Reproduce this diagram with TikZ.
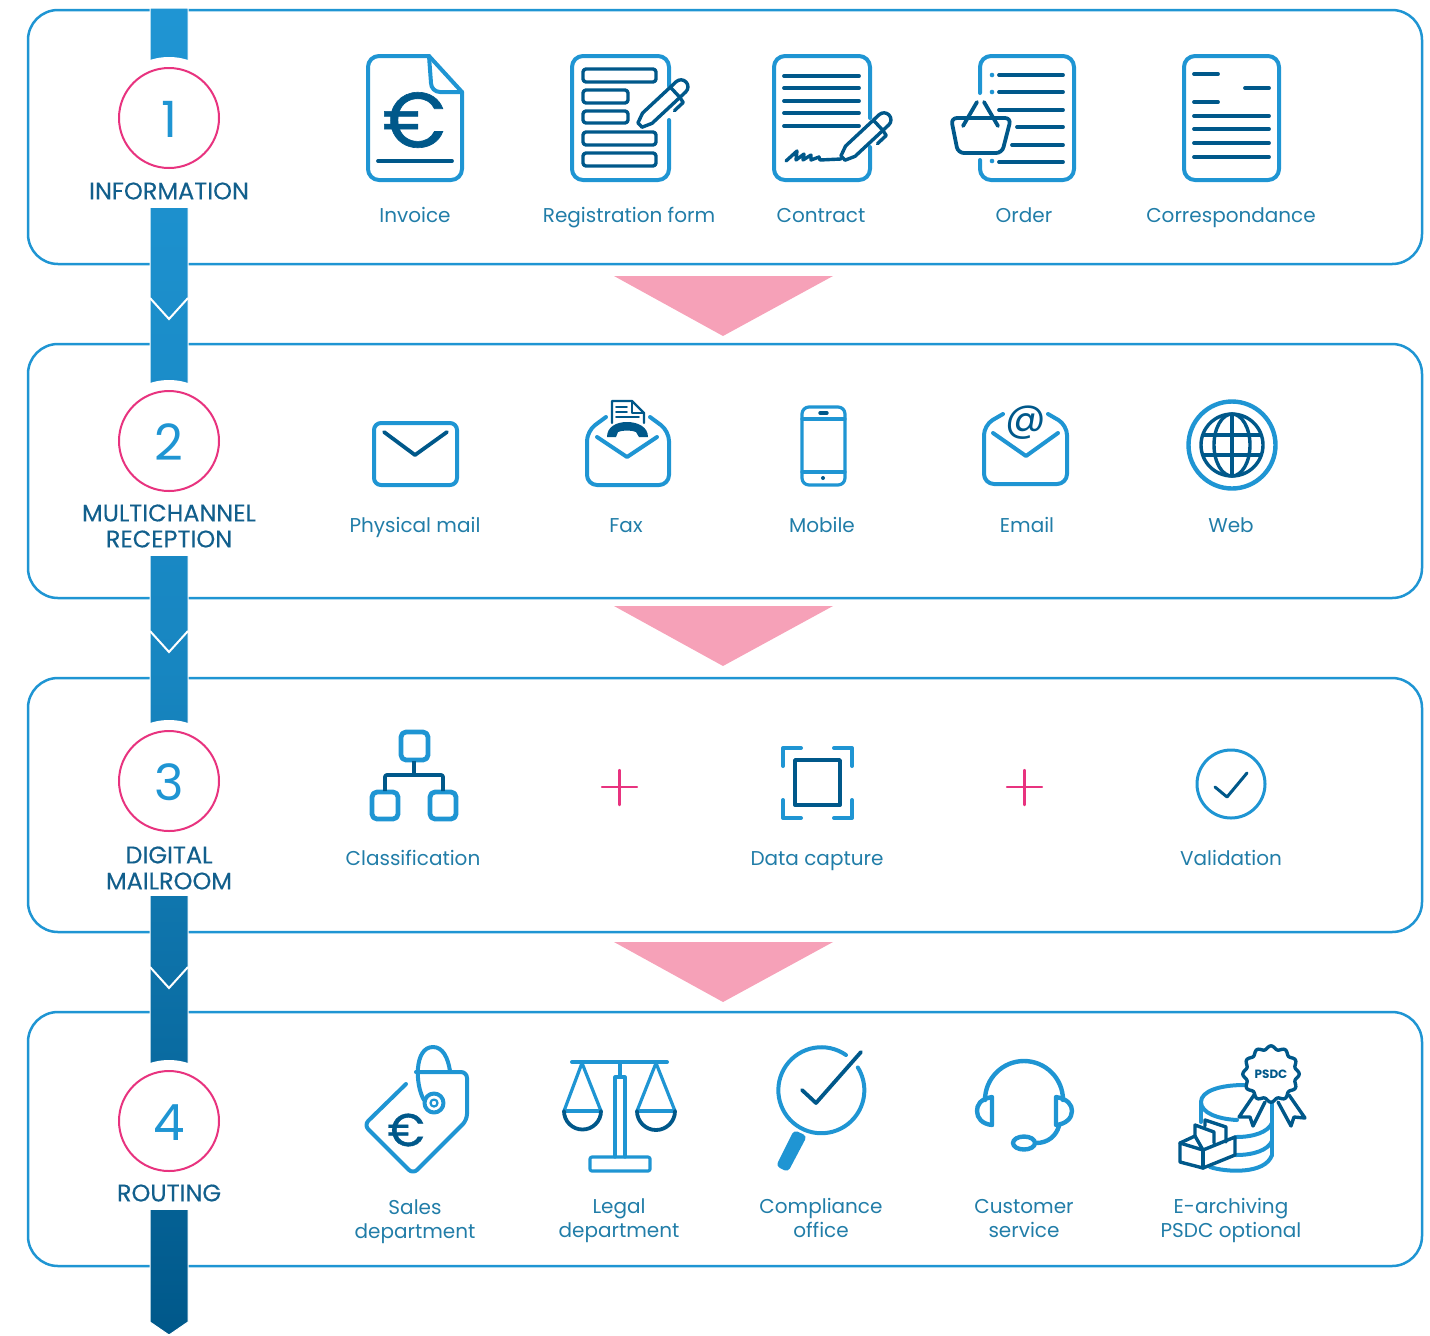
\documentclass[tikz,border=0pt]{standalone}
\usepackage{fontspec}
\setmainfont{Poppins}
\definecolor{lblue}{HTML}{1F95D3}
\definecolor{dblue}{HTML}{00588A}
\definecolor{pinkc}{HTML}{E8337F}
\definecolor{pinktri}{HTML}{F6A1B8}
\definecolor{itemc}{HTML}{217DA8}
\definecolor{titlec}{HTML}{125F8C}
\tikzset{
panel/.style={draw=lblue, line width=1.25pt, rounded corners=15pt},
iconl/.style={draw=lblue, line width=2pt, line cap=round, line join=round},
icond/.style={draw=dblue, line width=1.9pt, line cap=round, line join=round},
thinl/.style={draw=lblue, line width=1.6pt, line cap=round, line join=round},
thind/.style={draw=dblue, line width=1.7pt, line cap=round, line join=round},
itemlabel/.style={text=itemc, font=\fontsize{10pt}{12pt}\selectfont, align=center, inner sep=0pt},
itemone/.style={itemlabel, text height=10pt, text depth=2.5pt},
steptitle/.style={text=titlec, font=\fontsize{12pt}{13pt}\selectfont\addfontfeature{FakeBold=0.2}, align=center, inner sep=0pt},
stepcircle/.style={circle, draw=pinkc, line width=1pt, minimum size=50pt, inner sep=0pt, text=lblue, text height=19.5pt, text depth=0pt, font=\fontsize{25pt}{25pt}\selectfont},
pentool/.pic={
\draw[thind, fill=white] (0,3) -- (10,7) -- (56,7) arc[start angle=90, end angle=-90, radius=7] -- (10,-7) -- (0,-3) -- cycle;
\draw[thind] (48,-7) -- (48,7) -- (47,13) -- (35,13);
}
}
\begin{document}
\begin{tikzpicture}[x=0.5pt, y=-0.5pt]
\useasboundingbox (0,0) rectangle (1430,1335);
\draw[panel] (28,10) rectangle (1422,264);
\draw[panel] (28,344) rectangle (1422,598);
\draw[panel] (28,678) rectangle (1422,932);
\draw[panel] (28,1012) rectangle (1422,1266);
\fill[pinktri] (614,276) -- (833,276) -- (723,336) -- cycle;
\fill[pinktri] (614,606) -- (833,606) -- (723,666) -- cycle;
\fill[pinktri] (614,942) -- (833,942) -- (723,1002) -- cycle;

\shadedraw[top color=lblue, bottom color=dblue, middle color=lblue!75!dblue, draw=white, line width=.5pt] (150,8) -- (188,8) -- (188,1322) -- (169,1335) -- (150,1322) -- cycle;
\draw[white, line width=1pt] (150,298) -- (169,319) -- (188,298);
\draw[white, line width=1pt] (150,631) -- (169,652) -- (188,631);
\draw[white, line width=1pt] (150,967) -- (169,988) -- (188,967);
\fill[white] (169,118) circle (61);
\fill[white] (140,118) rectangle (198,208);
\fill[white] (169,441) circle (61);
\fill[white] (140,441) rectangle (198,556);
\fill[white] (169,781) circle (61);
\fill[white] (140,781) rectangle (198,896);
\fill[white] (169,1121) circle (61);
\fill[white] (140,1121) rectangle (198,1210);

\node[stepcircle] (stepa) at (169,118) {1};
\node[stepcircle] (stepb) at (169,441) {2};
\node[stepcircle] (stepc) at (169,781) {3};
\node[stepcircle] (stepd) at (169,1121) {4};
\node[steptitle] (titlea) at (169,191) {INFORMATION};
\node[steptitle] (titleb) at (169,526) {MULTICHANNEL\\RECEPTION};
\node[steptitle] (titlec) at (169,868) {DIGITAL\\MAILROOM};
\node[steptitle] (titled) at (169,1193) {ROUTING};

\draw[iconl] (429,56) -- (379,56) arc[start angle=270, end angle=180, radius=11] -- (368,169) arc[start angle=180, end angle=90, radius=11] -- (451,180) arc[start angle=90, end angle=0, radius=11] -- (462,92) -- cycle;
\draw[iconl] (429,56) -- (431,83) arc[start angle=180, end angle=90, radius=9] -- (462,92);
\node[text=dblue, inner sep=0pt, font=\fontsize{39pt}{39pt}\selectfont\addfontfeature{FakeBold=0.8}] (euroa) at (414,120) {€};
\draw[icond] (378,161) -- (452,161);
\node[itemone] (invoice) at (415,215) {Invoice};

\draw[iconl] (669,86) -- (669,67) arc[start angle=0, end angle=-90, radius=11] -- (583,56) arc[start angle=270, end angle=180, radius=11] -- (572,169) arc[start angle=180, end angle=90, radius=11] -- (658,180) arc[start angle=90, end angle=0, radius=11] -- (669,120);
\draw[thind, rounded corners=1.5pt] (583,69) rectangle (656,82);
\draw[thind, rounded corners=1.5pt] (583,90) rectangle (628,103);
\draw[thind, rounded corners=1.5pt] (583,111) rectangle (628,123);
\draw[thind, rounded corners=1.5pt] (583,132) rectangle (656,145);
\draw[thind, rounded corners=1.5pt] (583,153) rectangle (656,166);
\pic[rotate=43] at (640,125) {pentool};
\node[itemone] (regform) at (629,215) {Registration form};

\draw[iconl] (870,118) -- (870,67) arc[start angle=0, end angle=-90, radius=11] -- (785,56) arc[start angle=270, end angle=180, radius=11] -- (774,169) arc[start angle=180, end angle=90, radius=11] -- (859,180) arc[start angle=90, end angle=0, radius=11] -- (870,147);
\draw[icond] (784,76) -- (859,76);
\draw[icond] (784,88) -- (859,88);
\draw[icond] (784,101) -- (859,101);
\draw[icond] (784,113) -- (859,113);
\draw[icond] (784,126) -- (859,126);
\draw[thind] (786,161) -- (797,151) -- (796,160) -- (804,154) -- (803,160) -- (811,155) -- (811,160) -- (819,157) -- (820,160) -- (841,159);
\pic[rotate=43] at (843,158) {pentool};
\node[itemone] (contract) at (821,215) {Contract};

\draw[iconl] (980,93) -- (980,67) arc[start angle=180, end angle=270, radius=11] -- (1063,56) arc[start angle=-90, end angle=0, radius=11] -- (1074,169) arc[start angle=0, end angle=90, radius=11] -- (991,180) arc[start angle=90, end angle=180, radius=11] -- (980,160);
\fill[lblue] (992,75) circle (2.3);
\fill[lblue] (992,92) circle (2.3);
\fill[lblue] (992,161) circle (2.3);
\draw[icond] (999,75) -- (1063,75);
\draw[icond] (999,92) -- (1063,92);
\draw[icond] (999,110) -- (1063,110);
\draw[icond] (1017,127) -- (1063,127);
\draw[icond] (1012,145) -- (1063,145);
\draw[icond] (999,162) -- (1063,162);
\draw[icond, rounded corners=3pt] (951,118) -- (1011,118) -- (1002,153) -- (958,153) -- cycle;
\draw[icond] (963,126) -- (977,102);
\draw[icond] (998,126) -- (984,102);
\node[itemone] (order) at (1024,215) {Order};

\draw[iconl, rounded corners=5.5pt] (1184,56) rectangle (1279,180);
\draw[icond] (1194,74) -- (1218,74);
\draw[icond] (1245,88) -- (1269,88);
\draw[icond] (1194,102) -- (1218,102);
\draw[icond] (1194,116) -- (1269,116);
\draw[icond] (1194,129) -- (1269,129);
\draw[icond] (1194,143) -- (1269,143);
\draw[icond] (1194,157) -- (1269,157);
\node[itemone] (correspond) at (1231,215) {Correspondance};

\draw[iconl, rounded corners=3.5pt] (374,423) rectangle (457,485);
\draw[icond] (384,432) -- (415,455) -- (447,432);
\node[itemone] (physmail) at (415,525) {Physical mail};

\draw[iconl, rounded corners=5pt] (606,417) -- (587,431) -- (587,485) -- (669,485) -- (669,431) -- (650,417);
\draw[iconl] (597,437) -- (627,457) -- (657,437);
\draw[thind, line width=1.2pt] (612,423) -- (612,401) -- (632,401) -- (644,413) -- (644,423);
\draw[thind, line width=1.2pt] (632,401) -- (632,413) -- (644,413);
\draw[thind, line width=.8pt] (616,407) -- (627,407);
\draw[thind, line width=.8pt] (616,412) -- (627,412);
\draw[thind, line width=.8pt] (616,417) -- (639,417);
\fill[dblue] (607,437) .. controls (607,427) and (616,422) .. (627,422) .. controls (638,422) and (648,427) .. (648,437) -- (639,437) -- (636,432) .. controls (632,430) and (622,430) .. (618,432) -- (616,437) -- cycle;
\node[itemone] (fax) at (626,525) {Fax};

\draw[thinl, rounded corners=3.5pt] (802,407) rectangle (845,485);
\draw[thinl] (802,419) -- (845,419);
\draw[thinl] (802,472) -- (845,472);
\draw[thind] (820,413) -- (827,413);
\fill[dblue] (823,478) circle (2);
\node[itemone] (mobile) at (822,525) {Mobile};

\draw[iconl, rounded corners=5pt] (1003,414) -- (984,425) -- (984,484) -- (1067,484) -- (1067,425) -- (1048,414);
\draw[iconl] (993,433) -- (1026,456) -- (1058,433);
\node[text=dblue, inner sep=0pt, font=\fontsize{20pt}{20pt}\selectfont] (atsign) at (1026,423) {@};
\node[itemone] (email) at (1027,525) {Email};

\draw[iconl, line width=2.2pt] (1232,445) circle (43.5);
\draw[thind] (1232,445) circle (31);
\draw[thind] (1232,445) ellipse [x radius=18, y radius=31];
\draw[thind] (1232,414) -- (1232,476);
\draw[thind] (1204,435) -- (1260,435);
\draw[thind] (1204,455) -- (1260,455);
\node[itemone] (web) at (1231,525) {Web};

\draw[iconl, rounded corners=2.5pt, line width=2.4pt] (401,732) rectangle (428,760);
\draw[iconl, rounded corners=2.5pt, line width=2.4pt] (372,792) rectangle (398,819);
\draw[iconl, rounded corners=2.5pt, line width=2.4pt] (430,792) rectangle (456,819);
\draw[icond, rounded corners=1pt, line cap=butt] (385,791) -- (385,775) -- (443,775) -- (443,791);
\draw[icond, line cap=butt] (414,761) -- (414,775);
\node[itemone] (classif) at (413,858) {Classification};

\draw[pinkc, line width=1.2pt, line cap=round] (602,787) -- (637,787);
\draw[pinkc, line width=1.2pt, line cap=round] (619.5,770) -- (619.5,805);

\draw[iconl] (783,766) -- (783,748) -- (801,748);
\draw[iconl] (834,748) -- (852,748) -- (852,766);
\draw[iconl] (783,800) -- (783,818) -- (801,818);
\draw[iconl] (834,818) -- (852,818) -- (852,800);
\draw[icond] (795,760) rectangle (840,805);
\node[itemone] (datacap) at (817,858) {Data capture};

\draw[pinkc, line width=1.2pt, line cap=round] (1007,787) -- (1042,787);
\draw[pinkc, line width=1.2pt, line cap=round] (1024.5,770) -- (1024.5,805);

\draw[iconl, line width=1.5pt] (1231,784) circle (34);
\draw[thind, line width=1.5pt] (1215,787) -- (1227,797) -- (1247,773);
\node[itemone] (valid) at (1231,858) {Validation};

\draw[iconl, rounded corners=3pt] (406,1084) -- (364,1125) -- (413,1174) -- (467,1120) -- (467,1072) -- (416,1072);
\draw[iconl] (424,1100) .. controls (415,1085) and (414,1047) .. (433,1047) .. controls (443,1047) and (448,1058) .. (450,1071);
\draw[iconl, fill=white] (434,1103) circle (9.5);
\draw[iconl, line width=1.1pt] (434,1103) circle (3.5);
\node[text=dblue, inner sep=0pt, font=\fontsize{23pt}{23pt}\selectfont\addfontfeature{FakeBold=0.8}] (eurob) at (406,1130) {€};
\node[itemlabel] (sales) at (415,1222) {Sales\\department};

\draw[iconl] (572,1062) -- (667,1062);
\draw[thinl] (620,1062) -- (620,1077);
\draw[thinl] (615,1157) -- (615,1077) -- (625,1077) -- (625,1157);
\draw[thinl, rounded corners=1pt] (590,1157) rectangle (650,1171);
\draw[thinl] (564,1111) -- (582,1063) -- (601,1111);
\draw[thinl] (637,1111) -- (656,1063) -- (675,1111);
\draw[thinl] (564,1111) -- (601,1111);
\draw[thinl] (637,1111) -- (675,1111);
\draw[icond] (564,1111) arc[start angle=180, end angle=0, radius=18.5];
\draw[icond] (637,1111) arc[start angle=180, end angle=0, radius=19];
\node[itemlabel] (legal) at (619,1221) {Legal\\department};

\draw[iconl] (846,1055) arc[start angle=-55, end angle=-392, radius=43];
\draw[icond] (802,1090) -- (816,1103) -- (861,1052);
\fill[lblue, rounded corners=2pt] (794,1130) -- (807,1136) -- (788,1172) -- (776,1166) -- cycle;
\node[itemlabel] (compli) at (821,1218) {Compliance\\office};

\draw[iconl, line width=2.2pt] (985,1100) arc[start angle=180, end angle=360, radius=39];
\draw[iconl, line width=2.2pt] (992,1097) .. controls (980,1099) and (977,1105) .. (977,1111) .. controls (977,1118) and (982,1124) .. (992,1125) -- cycle;
\draw[iconl, line width=2.2pt] (1056,1097) .. controls (1068,1099) and (1072,1105) .. (1072,1111) .. controls (1072,1118) and (1066,1124) .. (1056,1125) -- cycle;
\draw[iconl, line width=2.2pt] (1059,1126) .. controls (1056,1136) and (1048,1143) .. (1036,1143);
\draw[iconl, line width=2.2pt] (1024,1143) ellipse [x radius=11, y radius=6.5];
\node[itemlabel] (custom) at (1024,1219) {Customer\\service};

\draw[iconl] (1244,1085) .. controls (1220,1085) and (1201,1091) .. (1201,1102) .. controls (1201,1113) and (1218,1119) .. (1237,1120);
\draw[iconl] (1201,1102) -- (1201,1122);
\draw[iconl] (1272,1103) -- (1272,1155);
\draw[iconl] (1236,1137) .. controls (1254,1137) and (1268,1132) .. (1272,1123);
\draw[iconl] (1236,1155) .. controls (1254,1155) and (1268,1150) .. (1272,1141);
\draw[iconl] (1210,1167) .. controls (1225,1172) and (1265,1175) .. (1272,1155);
\draw[thind, fill=white] (1180,1143) -- (1203,1150) -- (1235,1137) -- (1235,1155) -- (1203,1168) -- (1180,1162) -- cycle;
\draw[thind] (1203,1150) -- (1203,1168);
\draw[thind] (1180,1143) -- (1195,1136) -- (1195,1125) -- (1214,1132) -- (1214,1143);
\draw[thind] (1205,1126) -- (1205,1120) -- (1226,1127) -- (1226,1142);
\draw[thind] (1195,1136) -- (1203,1150);
\draw[thind, fill=white] (1254,1095) -- (1239,1117) -- (1250,1117) -- (1253,1126) -- (1265,1102);
\draw[thind, fill=white] (1289,1095) -- (1305,1118) -- (1294,1117) -- (1291,1126) -- (1278,1102);
\draw[thind, fill=white] plot[domain=0:360, samples=121, smooth] ({1271+(26.5+1.7*cos(12*\x))*cos(\x)}, {1074+(26.5+1.7*cos(12*\x))*sin(\x)}) -- cycle;
\node[text=dblue, inner sep=0pt, font=\fontsize{6pt}{6pt}\selectfont\bfseries] (psdc) at (1271,1074) {PSDC};
\node[itemlabel] (archive) at (1231,1220) {E-archiving\\PSDC optional};
\end{tikzpicture}
\end{document}
